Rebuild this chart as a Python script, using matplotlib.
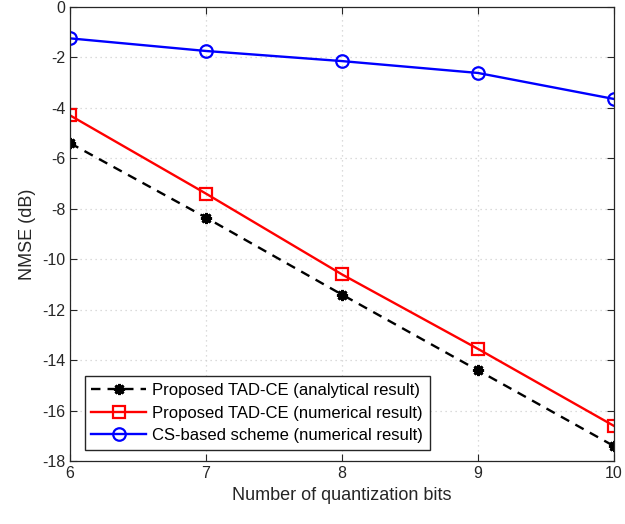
import matplotlib.pyplot as plt
import numpy as np

plt.rcParams['font.family'] = ['Liberation Sans', 'DejaVu Sans']
plt.rcParams['axes.unicode_minus'] = False

# data
bits = [6, 7, 8, 9, 10]
nmse_analytical = [-5.4, -8.35, -11.4, -14.4, -17.4]
nmse_numerical = [-4.3, -7.4, -10.6, -13.55, -16.6]
nmse_cs = [-1.25, -1.75, -2.15, -2.62, -3.65]

fig = plt.figure(figsize=(6.25, 5.24), dpi=100)
ax = fig.add_axes([0.112, 0.12, 0.870, 0.867])

ax.plot(bits, nmse_analytical, color='black', linestyle='--', marker=(8, 2, 0), markersize=8,
        markeredgewidth=2.0, linewidth=1.7, dashes=(4, 3),
        label='Proposed TAD-CE (analytical result)')
ax.plot(bits, nmse_numerical, color='red', marker='s', markersize=8, linewidth=1.7,
        markerfacecolor='none', markeredgewidth=1.6, label='Proposed TAD-CE (numerical result)')
ax.plot(bits, nmse_cs, color='blue', marker='o', markersize=9, linewidth=1.7,
        markerfacecolor='none', markeredgewidth=1.6, label='CS-based scheme (numerical result)')

ax.set_xlim(6, 10)
ax.set_ylim(-18, 0)
ax.set_xticks(np.arange(6, 11, 1))
ax.set_yticks(np.arange(-18, 1, 2))
ax.grid(True, linestyle=(0, (1, 3)), color='#d0d0d0', linewidth=0.9)
ax.tick_params(direction='in', top=True, right=True, labelsize=11.5, colors='#262626', length=5)
for s in ax.spines.values():
    s.set_color('#262626')
    s.set_linewidth(0.9)

ax.set_xlabel('Number of quantization bits', fontsize=13, color='#262626')
ax.set_ylabel('NMSE (dB)', fontsize=13, color='#262626')

leg = ax.legend(loc='lower left', bbox_to_anchor=(0.027, 0.025), fontsize=12, fancybox=False,
                edgecolor='#262626', framealpha=1, handlelength=3.3, borderpad=0.4,
                labelspacing=0.45, handletextpad=0.35, borderaxespad=0.0)
leg.get_frame().set_linewidth(1.0)

fig.savefig('out.png', dpi=100)
